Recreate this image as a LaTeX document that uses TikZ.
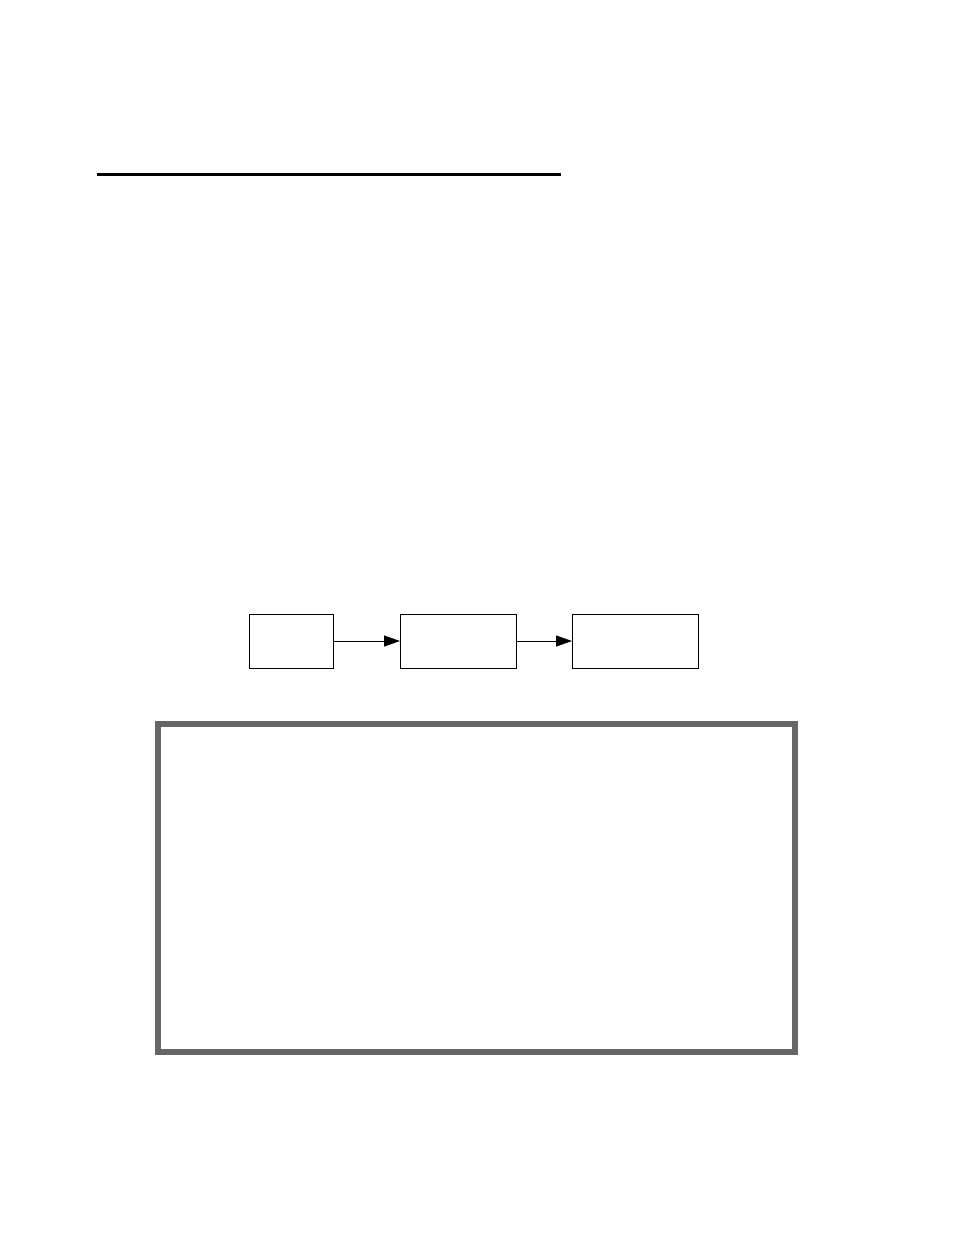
\documentclass[tikz,border=0pt]{standalone}
\usepackage{tikz}
\usetikzlibrary{arrows.meta}

\begin{document}
\begin{tikzpicture}
        [x=1pt, y=-1pt,
        block/.style={rectangle, draw=black, fill=white, line width=1pt,
                      minimum height=54pt, inner sep=0pt, outer sep=0pt},
        arr/.style={-{Triangle[length=16pt,width=11pt]}, line width=1pt},
        panel/.style={rectangle, draw=frgray, line width=6pt, inner sep=0pt,
                      minimum width=637pt, minimum height=328pt}]
        \definecolor{frgray}{HTML}{666666}
        \useasboundingbox (0,0) rectangle (954,1235);
        % top rule
        \coordinate (ruleL) at (97,174);
        \coordinate (ruleR) at (561,174);
        \draw[line width=3pt] (ruleL) -- (ruleR);
        % chain of blocks
        \node (A) at (291,641) [block, minimum width=84pt] {};
        \node (B) at (458,641) [block, minimum width=116pt] {};
        \node (C) at (635,641) [block, minimum width=126pt] {};
        \path (A) edge[arr] (B);
        \path (B) edge[arr] (C);
        % frame
        \node (F) at (476.5,888) [panel] {};
     \end{tikzpicture}
\end{document}
